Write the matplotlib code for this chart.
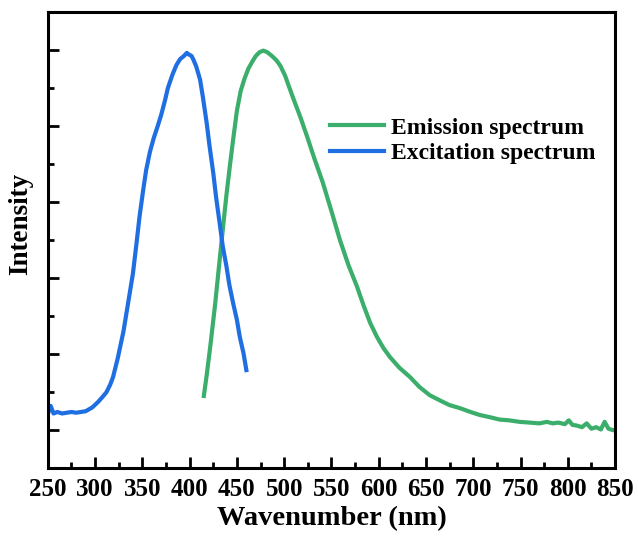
import matplotlib.pyplot as plt
from matplotlib.ticker import MultipleLocator

plt.rcParams['font.family'] = 'Liberation Serif'
plt.rcParams['font.weight'] = 'bold'

# excitation spectrum (normalised intensity)
exc_wl = [251, 253, 256, 260, 265, 270, 275, 280, 285, 290, 297, 303, 308, 312, 316,
          319, 324, 330, 335, 340, 344, 347, 351, 354, 358, 362, 366, 370, 374, 377,
          382, 386, 390, 394, 397, 399, 402, 404, 407, 411, 414, 418, 421, 425, 428,
          432, 435, 439, 442, 446, 450, 453, 457, 460]
exc_int = [0.25, 0.32, 0.22, 0.24, 0.22, 0.23, 0.24, 0.23, 0.24, 0.25, 0.30, 0.37, 0.44, 0.50, 0.60,
           0.70, 0.95, 1.30, 1.68, 2.06, 2.48, 2.81, 3.17, 3.42, 3.66, 3.84, 3.99, 4.15, 4.34, 4.50,
           4.68, 4.80, 4.88, 4.92, 4.96, 4.94, 4.92, 4.87, 4.78, 4.61, 4.38, 4.04, 3.74, 3.38, 3.06,
           2.70, 2.42, 2.15, 1.91, 1.67, 1.45, 1.23, 1.01, 0.79]

# emission spectrum (normalised intensity)
emi_wl = [415, 418, 422, 427, 431, 436, 439, 443, 446, 450, 454, 458, 462, 466, 470,
          474, 478, 482, 487, 492, 496, 501, 505, 510, 517, 524, 532, 541, 550, 559,
          568, 577, 584, 591, 598, 605, 612, 622, 633, 643, 654, 665, 675, 686,
          697, 707, 718, 728, 738, 749, 760, 770, 778, 784, 790, 797, 801, 805, 810,
          815, 820, 825, 830, 835, 839, 843, 848, 851]
emi_int = [0.45, 0.72, 1.12, 1.66, 2.15, 2.75, 3.10, 3.52, 3.82, 4.20, 4.46, 4.62, 4.75, 4.84, 4.92,
           4.97, 4.99, 4.97, 4.92, 4.86, 4.79, 4.66, 4.52, 4.35, 4.12, 3.87, 3.57, 3.25, 2.88, 2.50,
           2.17, 1.89, 1.64, 1.41, 1.23, 1.08, 0.96, 0.82, 0.70, 0.57, 0.46, 0.39, 0.33, 0.29,
           0.24, 0.20, 0.17, 0.14, 0.13, 0.11, 0.10, 0.09, 0.11, 0.09, 0.10, 0.08, 0.13, 0.07, 0.06,
           0.04, 0.09, 0.02, 0.04, 0.01, 0.11, 0.02, 0.00, 0.01]

x_ticks = list(range(250, 851, 50))

fig, ax = plt.subplots(figsize=(6.38, 5.37), dpi=100)
fig.subplots_adjust(left=0.075, right=0.964, top=0.978, bottom=0.128)

ax.plot(emi_wl, emi_int, color='#3aae6a', lw=3.0, label='Emission spectrum')
ax.plot(exc_wl, exc_int, color='#1f6fe3', lw=3.0, label='Excitation spectrum')

ax.set_xlim(250, 850)
ax.set_ylim(-0.5, 5.5)
ax.set_xticks(x_ticks)
ax.xaxis.set_minor_locator(MultipleLocator(25))
ax.yaxis.set_major_locator(MultipleLocator(1))
ax.yaxis.set_minor_locator(MultipleLocator(0.5))
ax.set_yticklabels([])
ax.tick_params(which='both', direction='in', width=2, labelsize=18)
ax.tick_params(which='major', length=8)
ax.tick_params(which='minor', length=4)
ax.tick_params(axis='x', pad=7)
for sp in ax.spines.values():
    sp.set_linewidth(2.2)

ax.set_xlabel('Wavenumber (nm)', fontsize=20.5, fontweight='bold', labelpad=4)
ax.set_ylabel('Intensity', fontsize=19.5, fontweight='bold')
ax.yaxis.set_label_coords(-0.026, 0.535)

ax.legend(loc='upper left', bbox_to_anchor=(0.48, 0.79), frameon=False,
          prop={'size': 17, 'weight': 'bold'}, handlelength=2.3, handletextpad=0.3,
          labelspacing=0.18, borderaxespad=0)

fig.savefig('out.png', dpi=100)
